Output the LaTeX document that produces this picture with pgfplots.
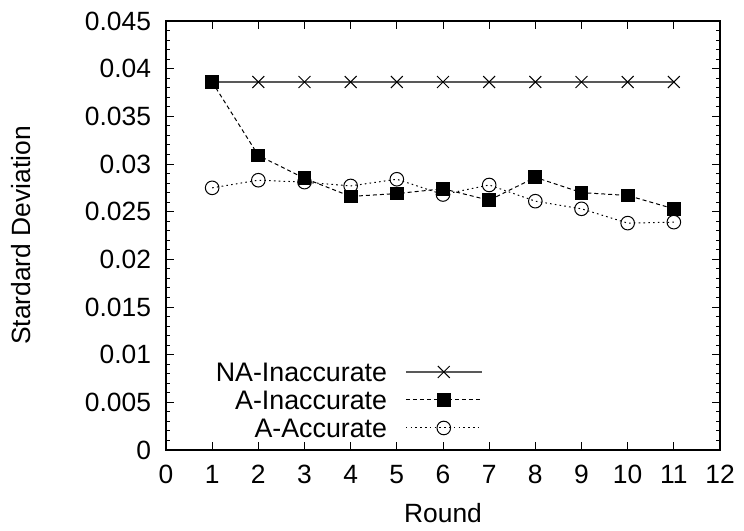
\documentclass[border=0pt]{standalone}
\usepackage{fontspec}
\setmainfont{Liberation Sans}
\usepackage{pgfplots}
\pgfplotsset{compat=1.18}
\begin{document}
\begin{tikzpicture}
\begin{axis}[
  scale only axis,
  width=277bp, height=214.5bp,
  xmin=0, xmax=12, ymin=0, ymax=0.045,
  xtick={0,1,...,12},
  ytick={0,0.005,...,0.045},
  minor y tick num=4,
  yticklabel style={/pgf/number format/fixed, /pgf/number format/precision=3},
  scaled y ticks=false,
  /pgf/number format/assume math mode=true,
  tick align=inside,
  major tick length=4bp, minor tick length=2bp,
  tick style={black, line width=0.5bp},
  axis line style={line width=0.6bp},
  font=\fontsize{13.2bp}{15bp}\selectfont,
  xlabel={Round}, ylabel={Stardard Deviation},
  xlabel style={at={(axis description cs:0.5,-0.1469)}, anchor=center},
  ylabel style={at={(axis description cs:-0.2617,0.5)}, anchor=center},
  xticklabel style={yshift=-4bp},
  yticklabel style={xshift=-4bp},
  legend plot pos=right,
  legend cell align=right,
  legend style={draw=none, fill=none, inner sep=0pt,
    at={(rel axis cs:0.572,0.1166)}, anchor=east,
    row sep=4.4bp,
    nodes={inner sep=0pt, text height=9.6bp, text depth=0pt},
    /tikz/every odd column/.append style={column sep=9bp},
    font=\fontsize{13.4bp}{14bp}\selectfont},
  legend image code/.code={
    \draw[mark repeat=2,mark phase=2] plot coordinates {(0bp,0bp)(19bp,0bp)(38bp,0bp)};},
]
\addplot[black!65, line width=0.7bp, mark=x, mark size=4.2bp,
  mark options={black, solid, line width=0.5bp}]
  coordinates {(1,0.0386)(2,0.0386)(3,0.0386)(4,0.0386)(5,0.0386)(6,0.0386)
               (7,0.0386)(8,0.0386)(9,0.0386)(10,0.0386)(11,0.0386)};
\addplot[black, line width=0.5bp, dash pattern=on 2bp off 1.5bp,
  mark=square*, mark size=3.2bp, mark options={solid}]
  coordinates {(1,0.0386)(2,0.0309)(3,0.0285)(4,0.0266)(5,0.0269)(6,0.0274)
               (7,0.0262)(8,0.0286)(9,0.0270)(10,0.0267)(11,0.0253)};
\addplot[black, line width=0.5bp, dash pattern=on 0.8bp off 1.6bp,
  mark=o, mark size=3.4bp, mark options={solid, line width=0.5bp}]
  coordinates {(1,0.0275)(2,0.0283)(3,0.0281)(4,0.0277)(5,0.0284)(6,0.0268)
               (7,0.0278)(8,0.0261)(9,0.0253)(10,0.0238)(11,0.0239)};
\legend{NA-Inaccurate, A-Inaccurate, A-Accurate}
\end{axis}
\pgfresetboundingbox
\path[use as bounding box] (-83bp,-40.5bp) rectangle (289bp,225bp);
\end{tikzpicture}
\end{document}
